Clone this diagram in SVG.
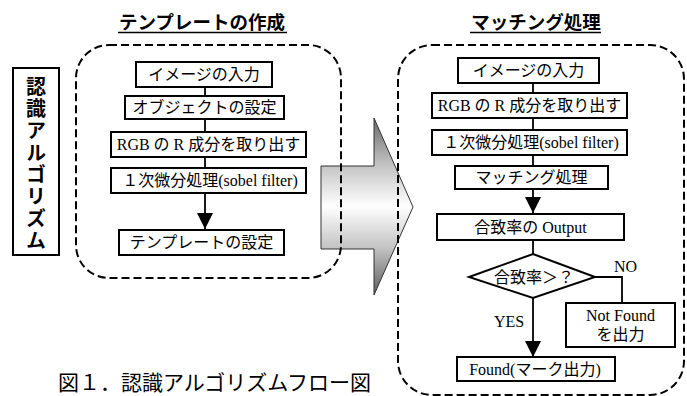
<svg xmlns="http://www.w3.org/2000/svg" width="687" height="396" viewBox="0 0 687 396">
<style>
.box{fill:#fff;stroke:#000;stroke-width:2}
.dash{fill:none;stroke:#000;stroke-width:2;stroke-dasharray:8 4}
.ln{fill:none;stroke:#000;stroke-width:1.8}
.t{font-family:"Liberation Serif","Noto Sans CJK JP",serif;font-size:16px;fill:#000;text-anchor:middle}
.j{font-family:"Noto Sans CJK JP",sans-serif;font-size:16px;fill:#000;text-anchor:middle}
.title{font-family:"Noto Sans CJK JP",sans-serif;font-size:18.5px;font-weight:bold;fill:#000;text-anchor:middle}
.vl{font-family:"Noto Sans CJK JP",sans-serif;font-size:20px;font-weight:bold;fill:#000;writing-mode:vertical-rl;letter-spacing:2px}
</style>
<defs>
<linearGradient id="g" gradientUnits="userSpaceOnUse" x1="0" y1="118" x2="0" y2="295">
<stop offset="0" stop-color="#6a6a6a"/>
<stop offset="0.27" stop-color="#c4c4c4"/>
<stop offset="0.5" stop-color="#ffffff"/>
<stop offset="0.73" stop-color="#c4c4c4"/>
<stop offset="1" stop-color="#5e5e5e"/>
</linearGradient>
<marker id="ah" markerUnits="userSpaceOnUse" markerWidth="16" markerHeight="16" viewBox="0 0 16 16" refX="16" refY="8" orient="auto">
<path d="M0,0 L16,8 L0,16 z" fill="#000"/>
</marker>
</defs>
<rect width="687" height="396" fill="#fff"/>

<g id="bigArrow">
<polygon points="321,166 374,166 374,118 413,207 374,295 374,249 321,249" fill="url(#g)" stroke="#333" stroke-width="1"/>
</g>

<g id="titles">
<text class="title" x="202" y="28.5">テンプレートの作成</text>
<line x1="118" y1="32.5" x2="287" y2="32.5" stroke="#000" stroke-width="1.5"/>
<text class="title" x="536" y="28.5">マッチング処理</text>
<line x1="470" y1="32.5" x2="601" y2="32.5" stroke="#000" stroke-width="1.5"/>
</g>

<g id="label">
<rect class="box" x="13" y="68" width="46" height="187"/>
<text class="vl" x="36" y="76">認識アルゴリズム</text>
</g>

<g id="groupTemplate"><rect class="dash" x="76" y="45" width="265" height="233" rx="33" ry="33"/></g>
<g id="groupMatching"><rect class="dash" x="398" y="45" width="286" height="350" rx="34" ry="34"/></g>

<g id="connectors">
<line class="ln" x1="205" y1="87" x2="205" y2="96"/>
<line class="ln" x1="205" y1="119" x2="205" y2="132"/>
<line class="ln" x1="205" y1="157" x2="205" y2="168"/>
<line class="ln" x1="205" y1="193" x2="205" y2="229" marker-end="url(#ah)"/>
<line class="ln" x1="533" y1="83" x2="533" y2="93"/>
<line class="ln" x1="533" y1="118" x2="533" y2="130"/>
<line class="ln" x1="533" y1="155" x2="533" y2="166"/>
<line class="ln" x1="533" y1="189" x2="533" y2="213" marker-end="url(#ah)"/>
<line class="ln" x1="533" y1="240" x2="533" y2="254"/>
<line class="ln" x1="533" y1="298" x2="533" y2="357" marker-end="url(#ah)"/>
<polyline class="ln" points="595,277 622,277 622,303"/>
<text class="t" x="625.5" y="272">NO</text>
<text class="t" x="509" y="327">YES</text>
</g>

<g id="t1"><rect class="box" x="136" y="62" width="136" height="25"/><text class="t" x="204" y="80">イメージの入力</text></g>
<g id="t2"><rect class="box" x="125" y="96" width="159" height="23"/><text class="t" x="204.5" y="113">オブジェクトの設定</text></g>
<g id="t3"><rect class="box" x="111" y="132" width="195" height="25"/><text class="t" x="208.5" y="150">RGB の R 成分を取り出す</text></g>
<g id="t4"><rect class="box" x="111" y="168" width="195" height="25"/><text class="t" x="210" y="186">１次微分処理(sobel filter)</text></g>
<g id="t5"><rect class="box" x="119" y="230" width="165" height="25"/><text class="t" x="201.5" y="248">テンプレートの設定</text></g>

<g id="m1"><rect class="box" x="458" y="58" width="141" height="25"/><text class="t" x="528.5" y="76">イメージの入力</text></g>
<g id="m2"><rect class="box" x="432" y="93" width="195" height="25"/><text class="t" x="529.5" y="111">RGB の R 成分を取り出す</text></g>
<g id="m3"><rect class="box" x="432" y="130" width="195" height="25"/><text class="t" x="531" y="148">１次微分処理(sobel filter)</text></g>
<g id="m4"><rect class="box" x="455" y="166" width="153" height="23"/><text class="t" x="531.5" y="183">マッチング処理</text></g>
<g id="m5"><rect class="box" x="437" y="214" width="187" height="26"/><text class="t" x="530.5" y="232.5">合致率の Output</text></g>
<g id="m6"><polygon class="box" points="533,254 595,277 533,298 469,277"/><text class="j" x="534" y="283">合致率＞？</text></g>
<g id="m7"><rect class="box" x="566" y="303" width="109" height="44"/><text class="t" x="620.5" y="321">Not Found</text><text class="t" x="620.5" y="340">を出力</text></g>
<g id="m8"><rect class="box" x="457" y="357" width="158" height="24"/><text class="t" x="535" y="374.5">Found(マーク出力)</text></g>

<g id="caption"><text x="58" y="390" font-family="'Noto Sans CJK JP',sans-serif" font-size="21" fill="#000">図１．認識アルゴリズムフロー図</text></g>
</svg>
